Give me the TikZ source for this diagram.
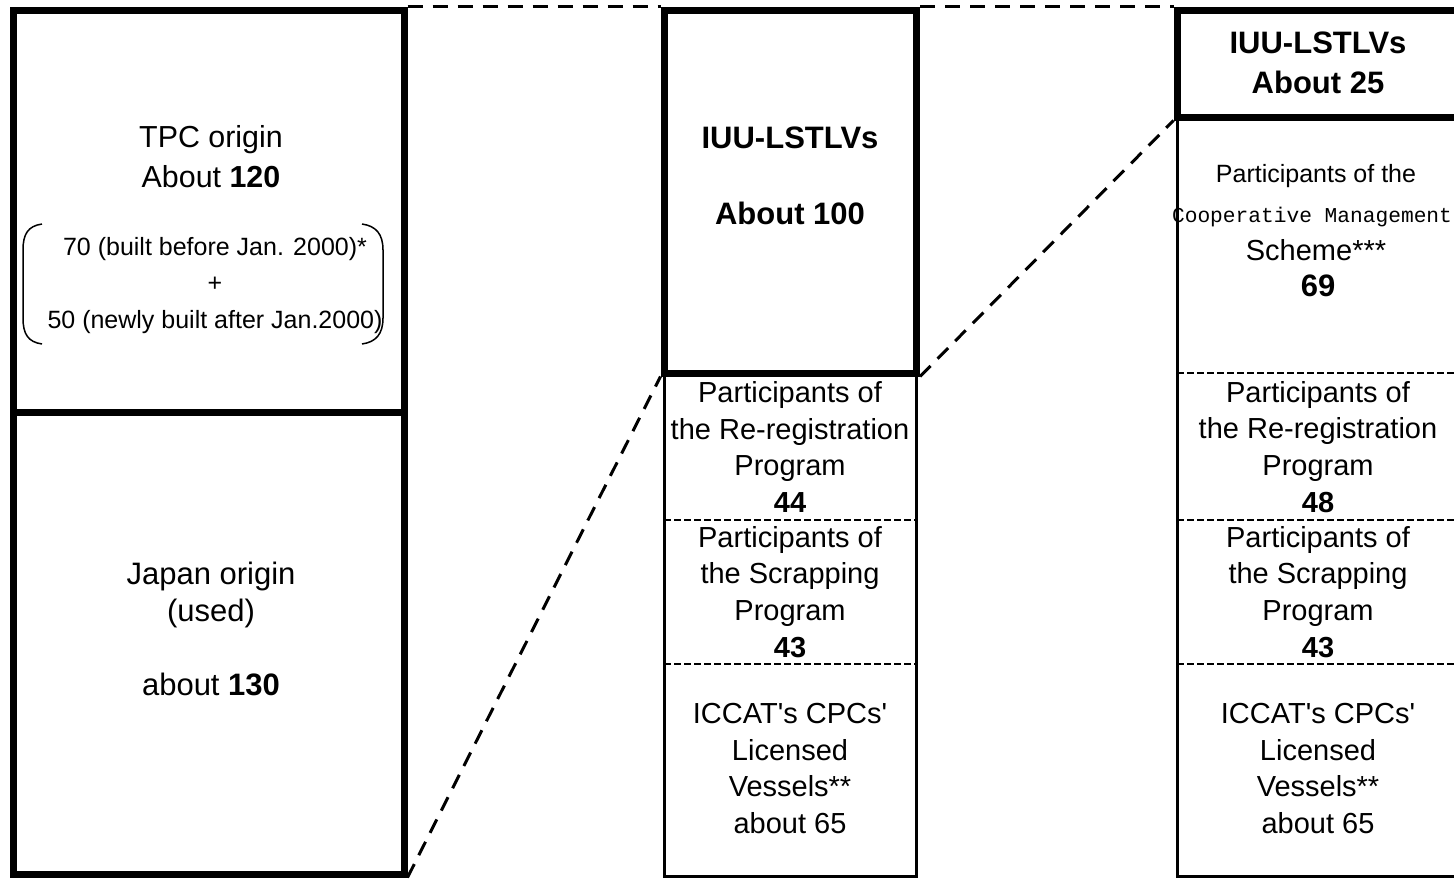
\documentclass[tikz,border=0pt]{standalone}
\usepackage{fontspec}
\setmainfont{Liberation Sans}
\newfontfamily\coopfont{Liberation Mono}
\usetikzlibrary{positioning}

\tikzset{
  thickbox/.style={draw, line width=3.5pt, inner sep=0pt},
  thinbox/.style={draw, line width=1.5pt, inner sep=0pt},
  link/.style={line width=1.5pt, dash pattern=on 7.5pt off 5pt},
  divider/.style={line width=1pt, dash pattern=on 3.5pt off 1.5pt},
  txt/.style={align=center, inner sep=0pt, font=\fontsize{14.5}{18.4}\selectfont},
  bigtxt/.style={align=center, inner sep=0pt, font=\fontsize{15.5}{18.6}\selectfont},
  smalltxt/.style={align=center, inner sep=0pt, font=\fontsize{12.5}{18.25}\selectfont},
  headtxt/.style={align=center, inner sep=0pt, font=\fontsize{15.5}{19}\selectfont\bfseries}
}

\begin{document}
\begin{tikzpicture}[x=0.5pt, y=-0.5pt]
  \useasboundingbox (0,0) rectangle (1454,878);
  % boxes, lower parts first
  \node[thinbox, minimum width=126.25pt, minimum height=251.5pt] (mbot) at (790.25,624.5) {};
  \node[thinbox, minimum width=141pt, minimum height=379.5pt] (rbot) at (1318,496.5) {};
  \draw[divider] (664,520) -- (916.5,520);
  \draw[divider] (664,664) -- (916.5,664);
  \draw[divider] (1177,373) -- (1459,373);
  \draw[divider] (1177,520) -- (1459,520);
  \draw[divider] (1177,664) -- (1459,664);
  \node[thickbox, minimum width=195.5pt, minimum height=201pt] (ltop) at (208.5,211) {};
  \node[thickbox, minimum width=195.5pt, minimum height=231pt] (lbot) at (208.5,643) {};
  \node[thickbox, minimum width=126.25pt, minimum height=181.5pt] (mtop) at (790.25,191.5) {};
  \node[thickbox, minimum width=141pt, minimum height=53.5pt] (rtop) at (1318,63.5) {};
  % zoom connectors
  \draw[link] (ltop.north east) -- (mtop.north west);
  \draw[link] (mtop.north east) -- (rtop.north west);
  \draw[link] (lbot.south east) -- (mtop.south west);
  \draw[link] (mtop.south east) -- (rtop.south west);
  % left column
  \node[bigtxt, font=\fontsize{15.2}{20}\selectfont] (tpc) at (211,157) {TPC origin\\About \textbf{120}};
  \node[smalltxt] (built) at (215,285.5) {70 (built before Jan. 2000)*\\+\\50 (newly built after Jan.2000)};
  \draw[line width=0.75pt] (42,224) .. controls (28,226) and (23,234) .. (23,250) -- (23,318)
    .. controls (23,334) and (28,342) .. (42,344);
  \draw[line width=0.75pt] (362,224) .. controls (376,226) and (383,234) .. (383,250) -- (383,318)
    .. controls (383,334) and (376,342) .. (362,344);
  \node[bigtxt] (japan) at (211,629) {Japan origin\\(used)\\[18.6pt]about \textbf{130}};
  % middle column
  \node[headtxt] (iuu100) at (790,176) {IUU-LSTLVs\\[19pt]About 100};
  \node[txt] (rereg44) at (790,447) {Participants of\\the Re-registration\\Program\\\textbf{44}};
  \node[txt] (scrap43) at (790,592) {Participants of\\the Scrapping\\Program\\\textbf{43}};
  \node[txt] (iccatm) at (790,768.5) {ICCAT\textquotesingle s CPCs\textquotesingle\\Licensed\\Vessels**\\about 65};
  % right column
  \node[headtxt, font=\fontsize{15.5}{20}\selectfont\bfseries] (iuu25) at (1318,63) {IUU-LSTLVs\\About 25};
  \node[smalltxt] (coopa) at (1316,176) {Participants of the};
  \node[inner sep=0pt, font=\fontsize{10.6}{12}\coopfont] (coopb) at (1312,217) {Cooperative Management};
  \node[txt] (coopc) at (1316,250) {Scheme***};
  \node[txt, font=\fontsize{15.5}{19}\selectfont\bfseries] (coop69) at (1318,286) {69};
  \node[txt] (rereg48) at (1318,447) {Participants of\\the Re-registration\\Program\\\textbf{48}};
  \node[txt] (scrap43r) at (1318,592) {Participants of\\the Scrapping\\Program\\\textbf{43}};
  \node[txt] (iccatr) at (1318,768.5) {ICCAT\textquotesingle s CPCs\textquotesingle\\Licensed\\Vessels**\\about 65};
\end{tikzpicture}
\end{document}
